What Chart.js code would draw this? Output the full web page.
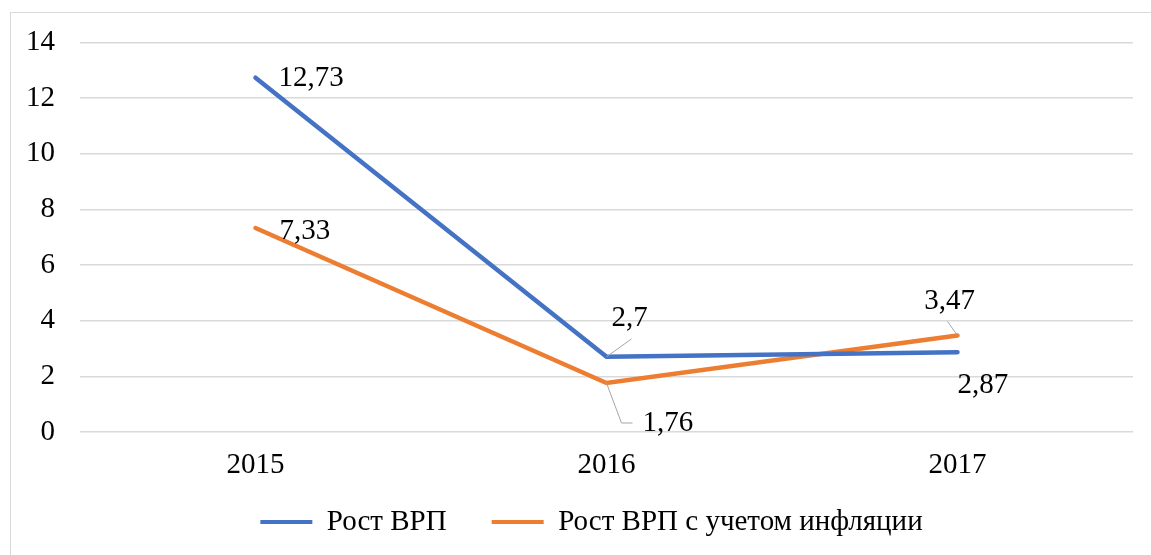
<!DOCTYPE html>
<html>
<head>
<meta charset="utf-8">
<script src="https://cdn.jsdelivr.net/npm/chart.js@4/dist/chart.umd.min.js"></script>
<style>
  html, body { margin: 0; padding: 0; background: #fff; }
  #wrap { position: relative; width: 1151px; height: 555px; }
</style>
</head>
<body>
<div id="wrap"><canvas id="grpChart"></canvas></div>
<script>
    // Data
    const years = ['2015', '2016', '2017'];
    const grpGrowth = [12.73, 2.7, 2.87];
    const grpGrowthReal = [7.33, 1.76, 3.47];
    const yTicks = [0, 2, 4, 6, 8, 10, 12, 14];

    const FONT = "'Liberation Serif', 'Times New Roman', serif";
    const FONT_SIZE = 29;

    // Label placement relative to each point (pixels)
    const blueLabels = [
    { dx: 23, dy: 1, align: 'left' },
    { dx: 5, dy: -38, align: 'left', leader: [[0, 0], [25, -18]] },
    { dx: 0, dy: 33, align: 'left' }
];
    const orangeLabels = [
    { dx: 24, dy: 3, align: 'left' },
    { dx: 36, dy: 40, align: 'left', leader: [[0, 0], [15, 40], [26, 40]] },
    { dx: -8, dy: -34, align: 'center', leader: [[0, 0], [-10, -14]] }
];

    const fmt = v => String(v).replace('.', ',');

    // Outer frame of the chart
    const framePlugin = {
    id: 'frame',
    beforeDraw(chart) {
    const c = chart.ctx;
    c.save();
    c.strokeStyle = '#d9d9d9';
    c.lineWidth = 1;
    c.strokeRect(10.5, 12.5, 1200, 600);
    c.restore();
}
};

    // Nudge the legend box so its items sit where the reference has them
    const legendShift = {
    id: 'legendShift',
    afterLayout(chart) {
    const lg = chart.legend;
    if (!lg) return;
    lg.left = 50;
    lg.top -= 14.5;
    lg.bottom -= 14.5;
}
};

    // Data labels with leader lines
    const labelPlugin = {
    id: 'pointLabels',
    afterDatasetsDraw(chart) {
    const c = chart.ctx;
    c.save();
    c.font = FONT_SIZE + 'px ' + FONT;
    c.textBaseline = 'middle';
    chart.data.datasets.forEach((ds, i) => {
    const meta = chart.getDatasetMeta(i);
    meta.data.forEach((pt, j) => {
    const cfg = ds.labelCfg[j];
    if (cfg.leader) {
    c.strokeStyle = '#a6a6a6';
    c.lineWidth = 1;
    c.beginPath();
    cfg.leader.forEach((p, k) => {
    const x = pt.x + p[0], y = pt.y + p[1];
    if (k === 0) c.moveTo(x, y); else c.lineTo(x, y);
});
    c.stroke();
}
    c.fillStyle = '#000';
    c.textAlign = cfg.align;
    c.fillText(fmt(ds.data[j]), pt.x + cfg.dx, pt.y + cfg.dy);
});
});
    c.restore();
}
};

    function drawChart() {
    const ctx = document.getElementById('grpChart');
    new Chart(ctx, {
    type: 'line',
    data: {
    labels: years,
    datasets: [{
    label: 'Рост ВРП',
    data: grpGrowth,
    borderColor: '#4472C4',
    backgroundColor: '#4472C4',
    borderWidth: 4.5,
    borderCapStyle: 'round',
    pointRadius: 0,
    tension: 0,
    labelCfg: blueLabels
}, {
    label: 'Рост ВРП с учетом инфляции',
    data: grpGrowthReal,
    borderColor: '#ED7D31',
    backgroundColor: '#ED7D31',
    borderWidth: 4.5,
    borderCapStyle: 'round',
    pointRadius: 0,
    tension: 0,
    labelCfg: orangeLabels
}]
},
    options: {
    responsive: true,
    maintainAspectRatio: false,
    animation: false,
    layout: {
    padding: { left: 0, right: 18, top: 41, bottom: -6 }
},
    plugins: {
    legend: {
    display: true,
    position: 'bottom',
    labels: {
    font: { family: FONT, size: FONT_SIZE },
    color: '#000',
    boxWidth: 52,
    boxHeight: 4,
    padding: 45,
    generateLabels(chart) {
    return chart.data.datasets.map((ds, i) => ({
    text: ds.label,
    fillStyle: ds.borderColor,
    strokeStyle: ds.borderColor,
    lineWidth: 0,
    hidden: false,
    datasetIndex: i
}));
}
}
},
    tooltip: { enabled: false }
},
    scales: {
    x: {
    offset: true,
    afterFit(scale) { scale.height = 45; },
    grid: { display: false, drawTicks: false },
    border: { display: false },
    ticks: {
    font: { family: FONT, size: FONT_SIZE },
    color: '#000',
    padding: 16
}
},
    y: {
    min: 0,
    max: 14,
    afterFit(scale) { scale.width = 80; },
    afterBuildTicks(scale) { scale.ticks = yTicks.map(v => ({ value: v })); },
    grid: { color: '#d9d9d9', lineWidth: 1.5, drawTicks: false },
    border: { display: false },
    ticks: {
    font: { family: FONT, size: FONT_SIZE },
    color: '#000',
    padding: 25
}
}
}
},
    plugins: [framePlugin, legendShift, labelPlugin]
});
}

    const fontReady = document.fonts && document.fonts.load
    ? document.fonts.load(FONT_SIZE + 'px ' + FONT, '0123 Рост ВРП')
    : Promise.resolve();
    fontReady.then(drawChart, drawChart);
</script>
</body>
</html>
